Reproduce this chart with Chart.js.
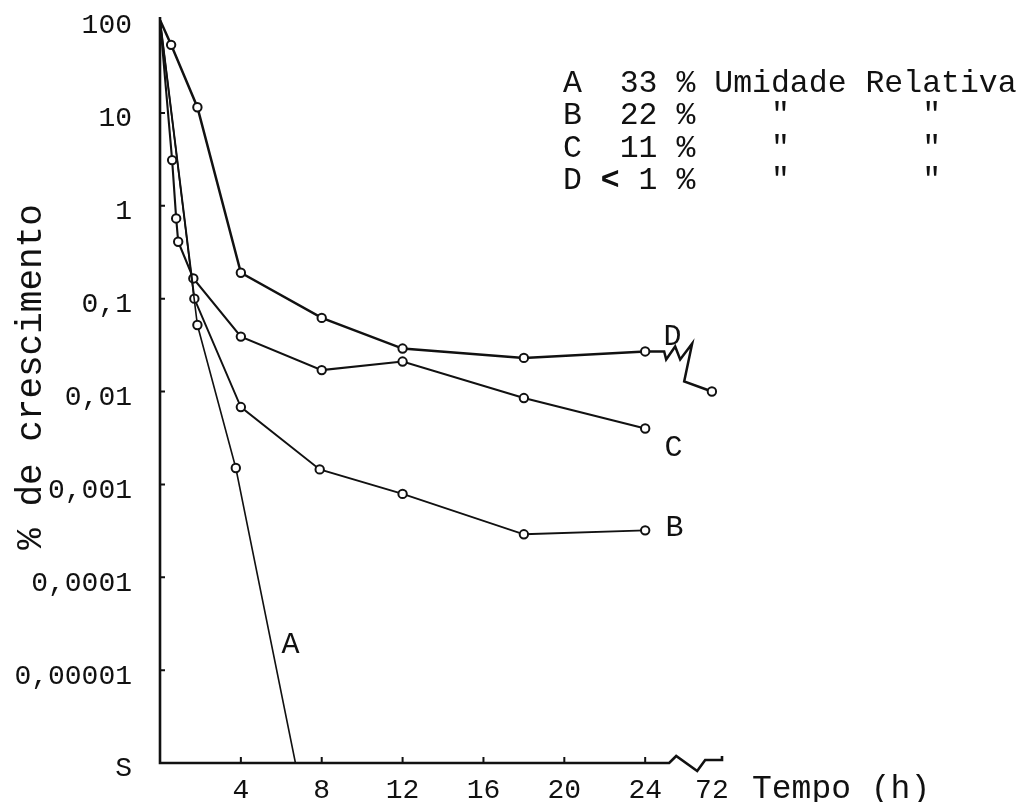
<!DOCTYPE html>
<html>
<head>
<title>% de crescimento x Tempo (h)</title>
<style>
  body { margin: 0; background: #fff; }
  canvas { display: block; }
</style>
</head>
<body>
<canvas id="myChart" width="1027" height="802"></canvas>

<script src="https://cdn.jsdelivr.net/npm/chart.js"></script>
<script>
// S = esteril (fundo do eixo log)
const S = 0.000001;

const yTicks = [S, 0.00001, 0.0001, 0.001, 0.01, 0.1, 1, 10, 100];
const yTickLabels = ['S', '0,00001', '0,0001', '0,001', '0,01', '0,1', '1', '10', '100'];
const xTicks = [4, 8, 12, 16, 20, 24, 72];

// A 33 %, B 22 %, C 11 %, D < 1 % umidade relativa
const hoursA = [0, 1.85, 3.75, 6.7];
const valuesA = [100, 0.052, 0.0015, S];
const hoursB = [0, 1.7, 4, 7.9, 12, 18, 24];
const valuesB = [100, 0.1, 0.0068, 0.00145, 0.00079, 0.00029, 0.00032];
const hoursC = [0, 0.6, 0.8, 0.9, 1.65, 4, 8, 12, 18, 24];
const valuesC = [100, 3.1, 0.73, 0.41, 0.165, 0.039, 0.017, 0.021, 0.0085, 0.004];
const hoursD = [0, 0.55, 1.85, 4, 8, 12, 18, 24, 72];
const valuesD = [100, 54, 11.5, 0.19, 0.062, 0.029, 0.023, 0.027, 0.01];

const legendRows = [
  'A  33 % Umidade Relativa',
  'B  22 %    "       "',
  'C  11 %    "       "',
  'D < 1 %    "       "'
];

const MONO = '"Liberation Mono", "Courier New", monospace';
const INK = '#111';

// eixo quebrado depois de 24 h: 72 h fica logo depois da quebra
const BREAK_POS = 27.3;
function axisX(h) {
  return h > 24 ? BREAK_POS : h;
}

function series(hours, values) {
  return hours.map((h, i) => ({ x: axisX(h), y: values[i] }));
}

function radii(n, hideLast) {
  return Array.from({ length: n }, (_, i) => (i === 0 || (hideLast && i === n - 1)) ? 0 : 4.2);
}

function lineSet(label, hours, values, width, hideLast) {
  return {
    label: label,
    data: series(hours, values),
    borderColor: INK,
    borderWidth: width,
    pointRadius: radii(hours.length, hideLast),
    pointBorderWidth: 2,
    pointBackgroundColor: '#fff',
    pointBorderColor: INK,
    tension: 0
  };
}

const dsD = lineSet('D', hoursD, valuesD, 2.5, false);
// o trecho 24 -> 72 h e desenhado a mao com a quebra
dsD.segment = {
  borderColor: ctx => ctx.p1DataIndex === hoursD.length - 1 ? 'rgba(0,0,0,0)' : INK
};

const decor = {
  id: 'decor',
  beforeDatasetsDraw(chart) {
    const ctx = chart.ctx;
    const meta = chart.getDatasetMeta(3);
    const p1 = meta.data[hoursD.length - 2];
    const p2 = meta.data[hoursD.length - 1];
    ctx.save();
    ctx.strokeStyle = INK;
    ctx.lineWidth = 2.5;
    ctx.beginPath();
    ctx.moveTo(p1.x, p1.y);
    ctx.lineTo(p1.x + 19, p1.y);
    ctx.lineTo(p1.x + 21, p1.y + 8);
    ctx.lineTo(p1.x + 30, p1.y - 5);
    ctx.lineTo(p1.x + 35, p1.y + 8);
    ctx.lineTo(p1.x + 47, p1.y - 8);
    ctx.lineTo(p1.x + 39, p1.y + 30);
    ctx.lineTo(p2.x, p2.y);
    ctx.stroke();
    ctx.restore();
  },
  afterDraw(chart) {
    const ctx = chart.ctx;
    const a = chart.chartArea;
    const xs = chart.scales.x;
    const ys = chart.scales.y;
    ctx.save();
    ctx.strokeStyle = INK;
    ctx.fillStyle = INK;

    // eixos
    const yb = a.bottom;
    const x24 = xs.getPixelForValue(24);
    ctx.lineWidth = 2.6;
    ctx.beginPath();
    ctx.moveTo(a.left, a.top - 3);
    ctx.lineTo(a.left, yb);
    ctx.lineTo(x24 + 24, yb);
    ctx.lineTo(x24 + 31, yb - 7);
    ctx.lineTo(x24 + 52, yb + 8);
    ctx.lineTo(x24 + 60, yb - 3);
    ctx.lineTo(a.right, yb - 3);
    ctx.lineTo(a.right, yb - 7);
    ctx.stroke();

    // marcas
    ctx.lineWidth = 2;
    ctx.beginPath();
    xTicks.slice(0, 6).forEach(h => {
      const px = xs.getPixelForValue(h);
      ctx.moveTo(px, yb);
      ctx.lineTo(px, yb - 6);
    });
    yTicks.slice(1, -1).forEach(v => {
      const py = ys.getPixelForValue(v);
      ctx.moveTo(a.left, py);
      ctx.lineTo(a.left + 5, py);
    });
    ctx.stroke();

    // letras das curvas
    ctx.font = '30px ' + MONO;
    ctx.textAlign = 'center';
    ctx.textBaseline = 'middle';
    ctx.fillText('D', xs.getPixelForValue(25.35), ys.getPixelForValue(0.0385));
    ctx.fillText('C', xs.getPixelForValue(25.4), ys.getPixelForValue(0.00246));
    ctx.fillText('B', xs.getPixelForValue(25.45), ys.getPixelForValue(0.00034));
    ctx.fillText('A', xs.getPixelForValue(6.45), ys.getPixelForValue(0.0000186));

    // titulo do eixo y
    ctx.save();
    ctx.translate(31, 377);
    ctx.rotate(-Math.PI / 2);
    ctx.font = '36px ' + MONO;
    ctx.fillText('% de crescimento', 0, 0);
    ctx.restore();

    // titulo do eixo x
    ctx.font = '33px ' + MONO;
    ctx.textAlign = 'left';
    ctx.fillText('Tempo (h)', 752, 789);

    // legenda
    ctx.font = '31.5px ' + MONO;
    ctx.textBaseline = 'alphabetic';
    const pitch = ctx.measureText('M').width;
    legendRows.forEach((row, i) => {
      ctx.fillText(row, 563, 92 + i * 32.3);
    });
    ctx.font = 'bold 31.5px ' + MONO;
    ctx.fillText('<', 563 + 2 * pitch, 92 + 3 * 32.3);
    ctx.restore();
  }
};

const config = {
  type: 'line',
  data: {
    datasets: [
      lineSet('A', hoursA, valuesA, 1.6, true),
      lineSet('B', hoursB, valuesB, 1.9, false),
      lineSet('C', hoursC, valuesC, 2.1, false),
      dsD
    ]
  },
  options: {
    responsive: false,
    animation: false,
    layout: { padding: { top: 20, right: 305, left: 0, bottom: 0 } },
    plugins: {
      legend: { display: false },
      tooltip: { enabled: false }
    },
    scales: {
      x: {
        type: 'linear',
        min: 0,
        max: 27.8,
        grid: { display: false },
        border: { display: false },
        afterBuildTicks: s => { s.ticks = xTicks.map(h => ({ value: axisX(h) })); },
        afterFit: s => { s.height = 39; },
        ticks: {
          autoSkip: false,
          maxRotation: 0,
          padding: 3,
          color: INK,
          font: { family: MONO, size: 28 },
          callback: (v, i) => String(xTicks[i])
        }
      },
      y: {
        type: 'logarithmic',
        min: S,
        max: 100,
        grid: { display: false },
        border: { display: false },
        afterBuildTicks: s => { s.ticks = yTicks.map(v => ({ value: v })); },
        afterFit: s => {
          s.width = 160;
          s.paddingTop = 0;
          s.paddingBottom = 0;
        },
        ticks: {
          autoSkip: false,
          padding: 20,
          labelOffset: 6,
          color: INK,
          font: { family: MONO, size: 28 },
          callback: (v, i) => yTickLabels[i]
        }
      }
    }
  },
  plugins: [decor]
};

const myChart = new Chart(document.getElementById('myChart'), config);
</script>
</body>
</html>
